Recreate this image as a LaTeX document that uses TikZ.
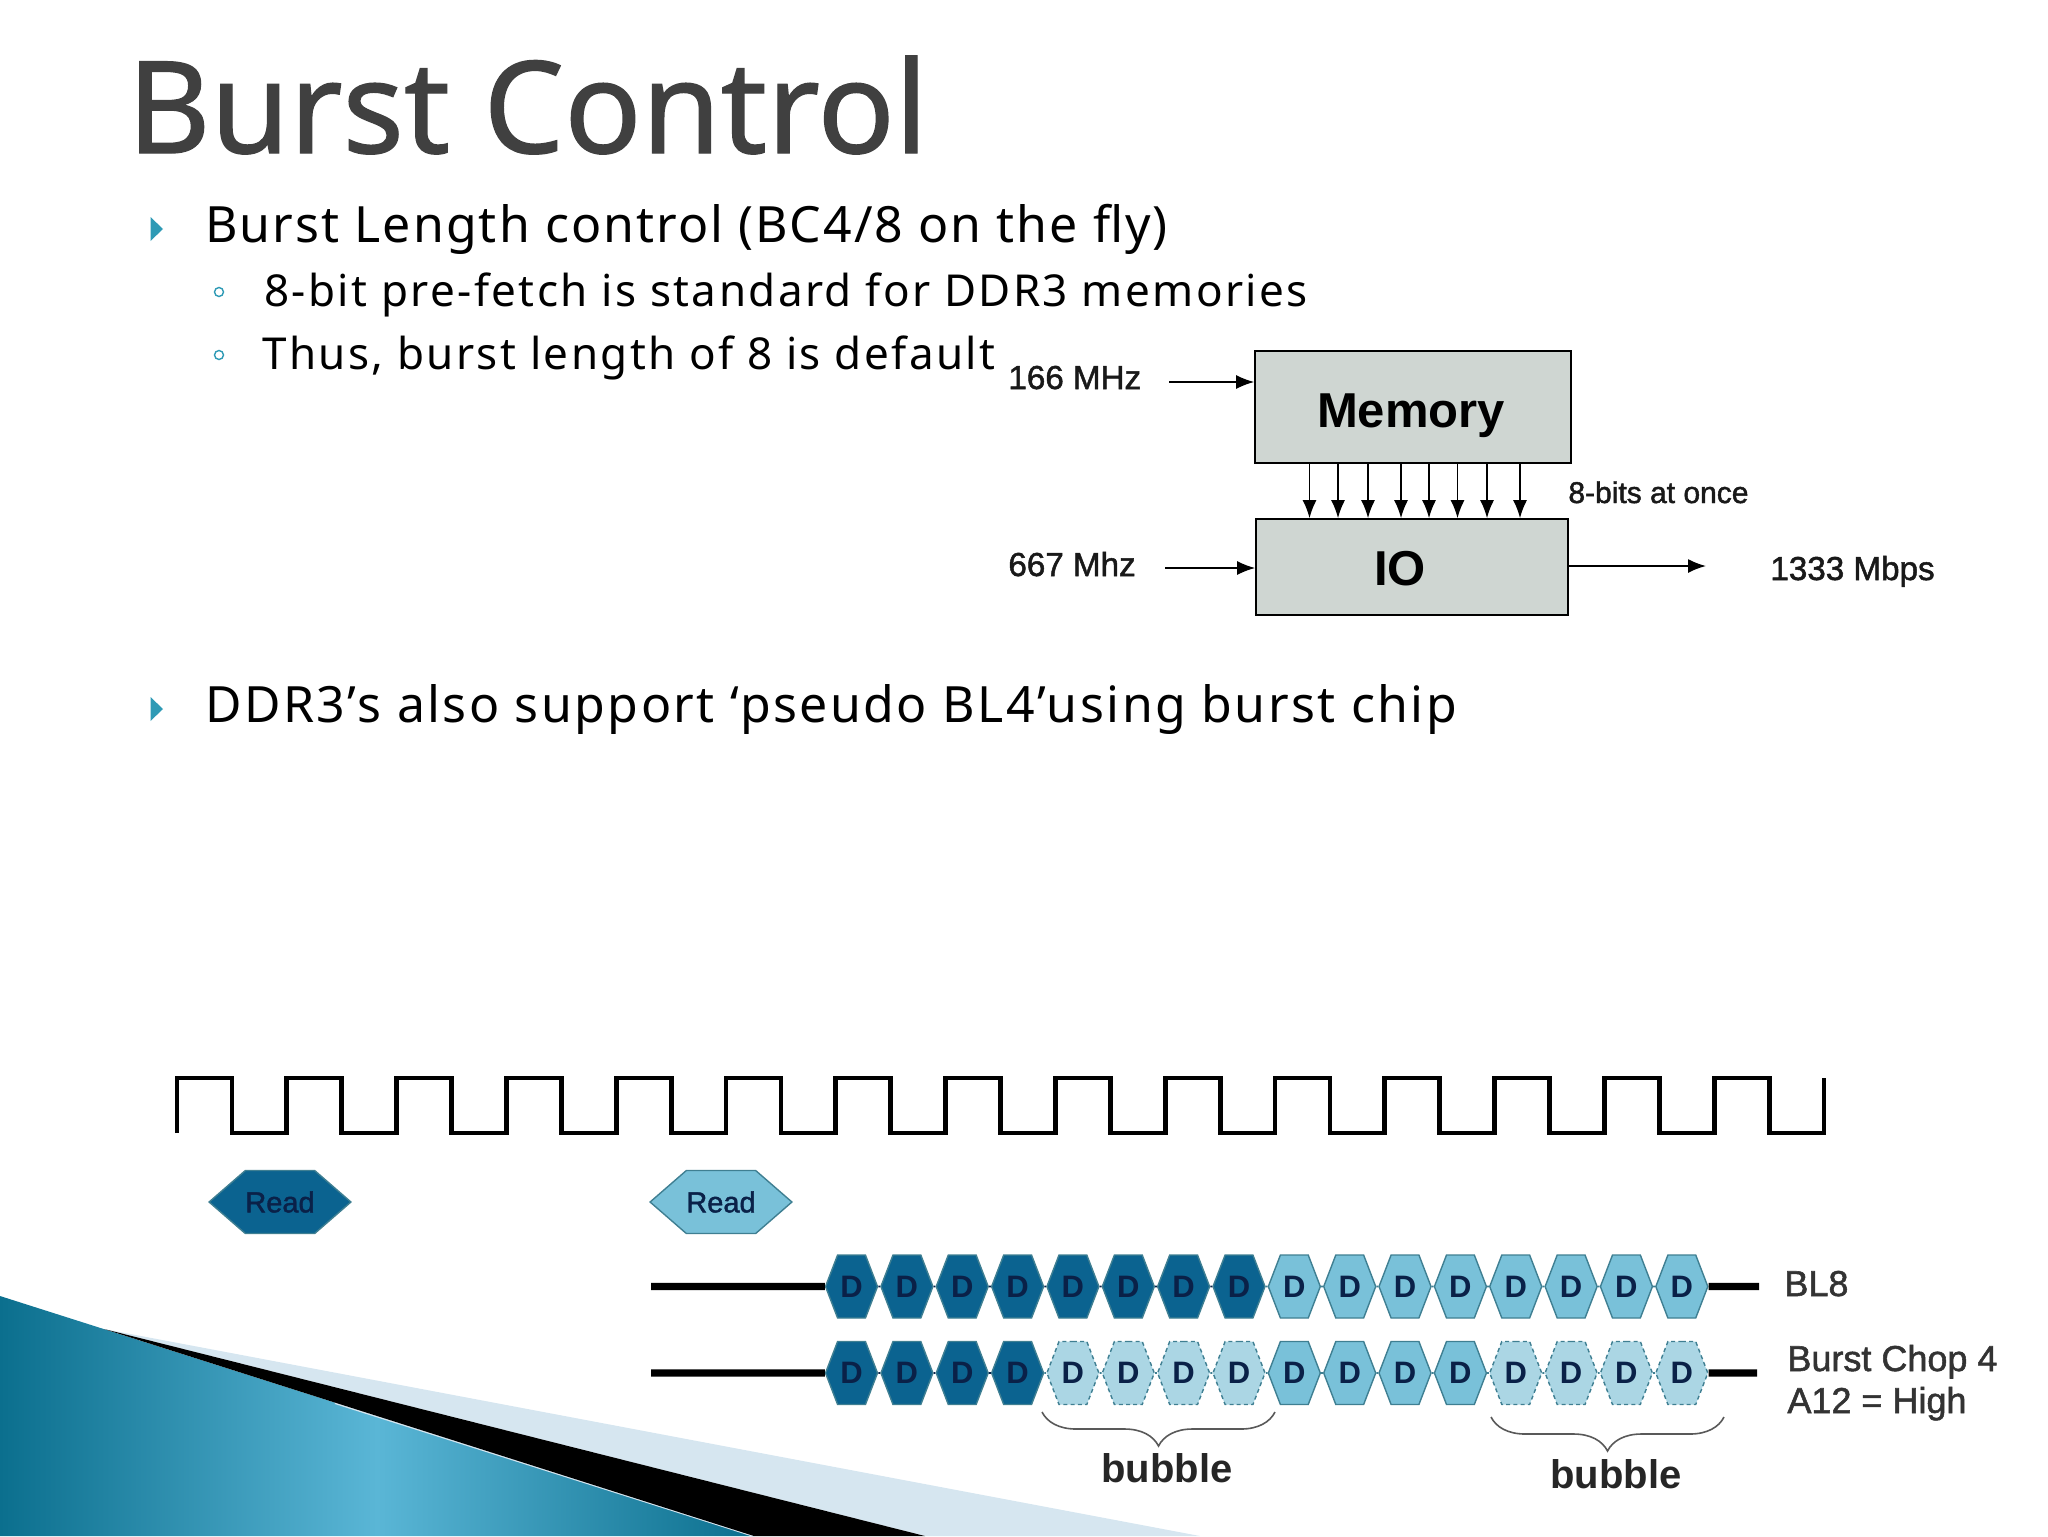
\documentclass[tikz,border=0pt]{standalone}
\usepackage{fontspec}
\setmainfont{Noto Sans}
\newfontfamily\titlefont[FakeBold=1]{Noto Sans}
\newfontfamily\mainfont[LetterSpace=4.1]{Noto Sans}
\newfontfamily\chipfont[LetterSpace=4.9]{Noto Sans}
\newfontfamily\subfont[LetterSpace=5.4]{Noto Sans}
\newfontfamily\figfont[FakeBold=1.5]{Liberation Sans}
\newfontfamily\figbold{Liberation Sans}
\usetikzlibrary{arrows.meta, shapes.symbols, decorations.pathreplacing, positioning}

\definecolor{darkblue}{HTML}{0B6390}
\definecolor{lightblue}{HTML}{79C1D9}
\definecolor{paleblue}{HTML}{ABD6E4}
\definecolor{hexedge}{HTML}{3F7F92}
\definecolor{navytext}{HTML}{0A2148}
\definecolor{boxgrey}{HTML}{CFD6D2}
\definecolor{bullet}{HTML}{2E9AB5}
\definecolor{band}{HTML}{D6E6F0}
\definecolor{cornerdark}{HTML}{0B6F8E}
\definecolor{cornerlight}{HTML}{5AB6D6}

\tikzset{
    slidetext/.style={anchor=base west, inner sep=0pt},
    bodymain/.style={slidetext, font=\mainfont\fontsize{25}{30}\selectfont},
    bodychip/.style={slidetext, font=\chipfont\fontsize{25}{30}\selectfont},
    bodysub/.style={slidetext, font=\subfont\fontsize{22}{26}\selectfont},
    figlabel/.style={slidetext, font=\figfont\fontsize{16.6}{20}\selectfont, text=black!90},
    smalllabel/.style={slidetext, font=\figfont\fontsize{15}{18}\selectfont, text=black!90},
    bubblelabel/.style={slidetext, font=\figbold\bfseries\fontsize{20}{24}\selectfont, text=black!85},
    sidelabel/.style={slidetext, font=\figfont\fontsize{18}{21}\selectfont, text=black!80},
    blockbox/.style={draw=black, line width=0.8pt, fill=boxgrey, inner sep=0pt, text depth=0pt, font=\figbold\bfseries\fontsize{24.5}{30}\selectfont},
    readhex/.style={signal, signal to=east and west, signal pointer angle=82, draw=hexedge, line width=0.7pt, inner sep=0pt, minimum width=69pt, minimum height=31.5pt, text=navytext, font=\figfont\fontsize{14.5}{16}\selectfont},
    datahex/.style={signal, signal to=east and west, signal pointer angle=138, draw=hexedge, line width=0.7pt, inner sep=0pt, minimum width=26pt, minimum height=31.5pt, text=navytext, font=\figbold\bfseries\fontsize{15.5}{18}\selectfont},
    darkhex/.style={datahex, fill=darkblue},
    lighthex/.style={datahex, fill=lightblue},
    palehex/.style={datahex, fill=paleblue, dash pattern=on 2pt off 1.6pt},
    leadline/.style={line width=3.6pt},
    chain/.style={line width=0.8pt},
    bubblebrace/.style={draw=black!65, line width=0.8pt, decorate, decoration={brace, mirror, amplitude=17pt}},
}

\begin{document}
\begin{tikzpicture}[x=0.5pt, y=-0.5pt, >={Latex[length=9pt, width=7pt]}]
    \useasboundingbox (0, 0) rectangle (2048, 1536);

    \shade[left color=cornerdark, right color=cornerdark, middle color=cornerlight] (0, 1296) -- (754, 1536) -- (0, 1536) -- cycle;
    \draw[band, line width=1pt] (335, 1403) -- (754, 1536);
    \fill[band] (104, 1329) -- (1200, 1536) -- (925, 1536) -- cycle;
    \fill[black] (104, 1329) -- (925, 1536) -- (754, 1536) -- cycle;

    \node[slidetext, font=\titlefont\fontsize{64}{70}\selectfont, text=black!75] (title) at (127, 153) {Burst Control};

    \fill[bullet] (150.5, 217) -- (163, 229) -- (150.5, 241) -- cycle;
    \fill[bullet] (150.5, 697) -- (163, 709) -- (150.5, 721) -- cycle;
    \draw[bullet, line width=0.7pt] (219, 292) circle (4.5);
    \draw[bullet, line width=0.7pt] (219, 355) circle (4.5);
    \node[bodymain] (burstlen) at (205, 242) {Burst Length control (BC4/8 on the fly)};
    \node[bodysub] (prefetch) at (264, 306) {8-bit pre-fetch is standard for DDR3 memories};
    \node[bodysub] (thus) at (262, 369) {Thus, burst length of 8 is default};
    \node[bodychip] (pseudo) at (205, 722) {DDR3’s also support ‘pseudo BL4’using burst chip};

    \node[blockbox, minimum width=158pt, minimum height=56pt, text height=20pt] (mem) at (1413, 407) {Memory\hspace{2pt}\null};
    \node[blockbox, minimum width=156pt, minimum height=48pt, text height=18pt] (io) at (1412, 567) {IO\hspace{12pt}\null};
    \node[figlabel] (memclk) at (1008, 389) {166 MHz};
    \node[figlabel] (ioclk) at (1008, 576) {667 Mhz};
    \node[smalllabel] (width) at (1568, 503) {8-bits at once};
    \node[figlabel] (rate) at (1770, 580) {1333 Mbps};
    \coordinate (memin) at (1169, 382);
    \coordinate (ioin) at (1165, 568);
    \coordinate (ioout) at (1706, 566);
    \coordinate (m1) at (1309.5, 463);
    \coordinate (m2) at (1338, 463);
    \coordinate (m3) at (1368, 463);
    \coordinate (m4) at (1401, 463);
    \coordinate (m5) at (1429, 463);
    \coordinate (m6) at (1457.5, 463);
    \coordinate (m7) at (1487, 463);
    \coordinate (m8) at (1520, 463);
    \draw[line width=0.85pt]
    (memin) edge[->] (memin -| mem.west)
    (ioin) edge[->] (ioin -| io.west)
    (ioout -| io.east) edge[->] (ioout)
    (m1) edge[->] (m1 |- io.north)
    (m2) edge[->] (m2 |- io.north)
    (m3) edge[->] (m3 |- io.north)
    (m4) edge[->] (m4 |- io.north)
    (m5) edge[->] (m5 |- io.north)
    (m6) edge[->] (m6 |- io.north)
    (m7) edge[->] (m7 |- io.north)
    (m8) edge[->] (m8 |- io.north);

    \draw[line width=2.4pt, line join=miter] (177, 1133) \foreach \k in {1,...,15} { -- ++(0, -55) -- ++(54.9, 0) -- ++(0, 55) -- ++(54.9, 0) } -- ++(0, -55);

    \node[readhex, fill=darkblue] (read1) at (280, 1202) {Read};
    \node[readhex, fill=lightblue] (read2) at (721, 1202) {Read};

    \node[darkhex] (a1) at (851.5, 1286.5) {D};
    \node[darkhex] (a2) at (906.9, 1286.5) {D};
    \node[darkhex] (a3) at (962.2, 1286.5) {D};
    \node[darkhex] (a4) at (1017.6, 1286.5) {D};
    \node[darkhex] (a5) at (1072.9, 1286.5) {D};
    \node[darkhex] (a6) at (1128.3, 1286.5) {D};
    \node[darkhex] (a7) at (1183.6, 1286.5) {D};
    \node[darkhex] (a8) at (1239, 1286.5) {D};
    \node[lighthex] (a9) at (1294.3, 1286.5) {D};
    \node[lighthex] (a10) at (1349.7, 1286.5) {D};
    \node[lighthex] (a11) at (1405, 1286.5) {D};
    \node[lighthex] (a12) at (1460.4, 1286.5) {D};
    \node[lighthex] (a13) at (1515.7, 1286.5) {D};
    \node[lighthex] (a14) at (1571.1, 1286.5) {D};
    \node[lighthex] (a15) at (1626.4, 1286.5) {D};
    \node[lighthex] (a16) at (1681.8, 1286.5) {D};

    \node[darkhex] (b1) at (851.5, 1373) {D};
    \node[darkhex] (b2) at (906.9, 1373) {D};
    \node[darkhex] (b3) at (962.2, 1373) {D};
    \node[darkhex] (b4) at (1017.6, 1373) {D};
    \node[palehex] (b5) at (1072.9, 1373) {D};
    \node[palehex] (b6) at (1128.3, 1373) {D};
    \node[palehex] (b7) at (1183.6, 1373) {D};
    \node[palehex] (b8) at (1239, 1373) {D};
    \node[lighthex] (b9) at (1294.3, 1373) {D};
    \node[lighthex] (b10) at (1349.7, 1373) {D};
    \node[lighthex] (b11) at (1405, 1373) {D};
    \node[lighthex] (b12) at (1460.4, 1373) {D};
    \node[palehex] (b13) at (1515.7, 1373) {D};
    \node[palehex] (b14) at (1571.1, 1373) {D};
    \node[palehex] (b15) at (1626.4, 1373) {D};
    \node[palehex] (b16) at (1681.8, 1373) {D};

    \draw[chain, draw=navytext] (a1) -- (a2) -- (a3) -- (a4) -- (a5) -- (a6) -- (a7) -- (a8);
    \draw[chain, draw=hexedge] (a8) -- (a9) -- (a10) -- (a11) -- (a12) -- (a13) -- (a14) -- (a15) -- (a16);
    \draw[chain, draw=navytext] (b1) -- (b2) -- (b3) -- (b4);
    \draw[chain, draw=hexedge] (b4) -- (b5) -- (b6) -- (b7) -- (b8) -- (b9) -- (b10) -- (b11) -- (b12) -- (b13) -- (b14) -- (b15) -- (b16);

    \coordinate (lead1) at (651, 1286.5);
    \coordinate (lead2) at (651, 1373);
    \coordinate (tail1) at (1759, 1286.5);
    \coordinate (tail2) at (1757, 1373);
    \draw[leadline]
    (lead1) edge (a1)
    (lead2) edge (b1)
    (a16) edge (tail1)
    (b16) edge (tail2);

    \node[sidelabel] (bl8) at (1784, 1296) {BL8};
    \node[sidelabel] (chop) at (1787, 1371) {Burst Chop 4};
    \node[sidelabel] (a12high) at (1787, 1413) {A12 = High};

    \coordinate (brace1l) at (1042, 1412);
    \coordinate (brace1r) at (1275, 1412);
    \coordinate (brace2l) at (1491, 1417);
    \coordinate (brace2r) at (1724, 1417);
    \draw[bubblebrace] (brace1l) -- (brace1r);
    \draw[bubblebrace] (brace2l) -- (brace2r);
    \node[bubblelabel] (bubble1) at (1101, 1482) {bubble};
    \node[bubblelabel] (bubble2) at (1550, 1488) {bubble};
\end{tikzpicture}
\end{document}
